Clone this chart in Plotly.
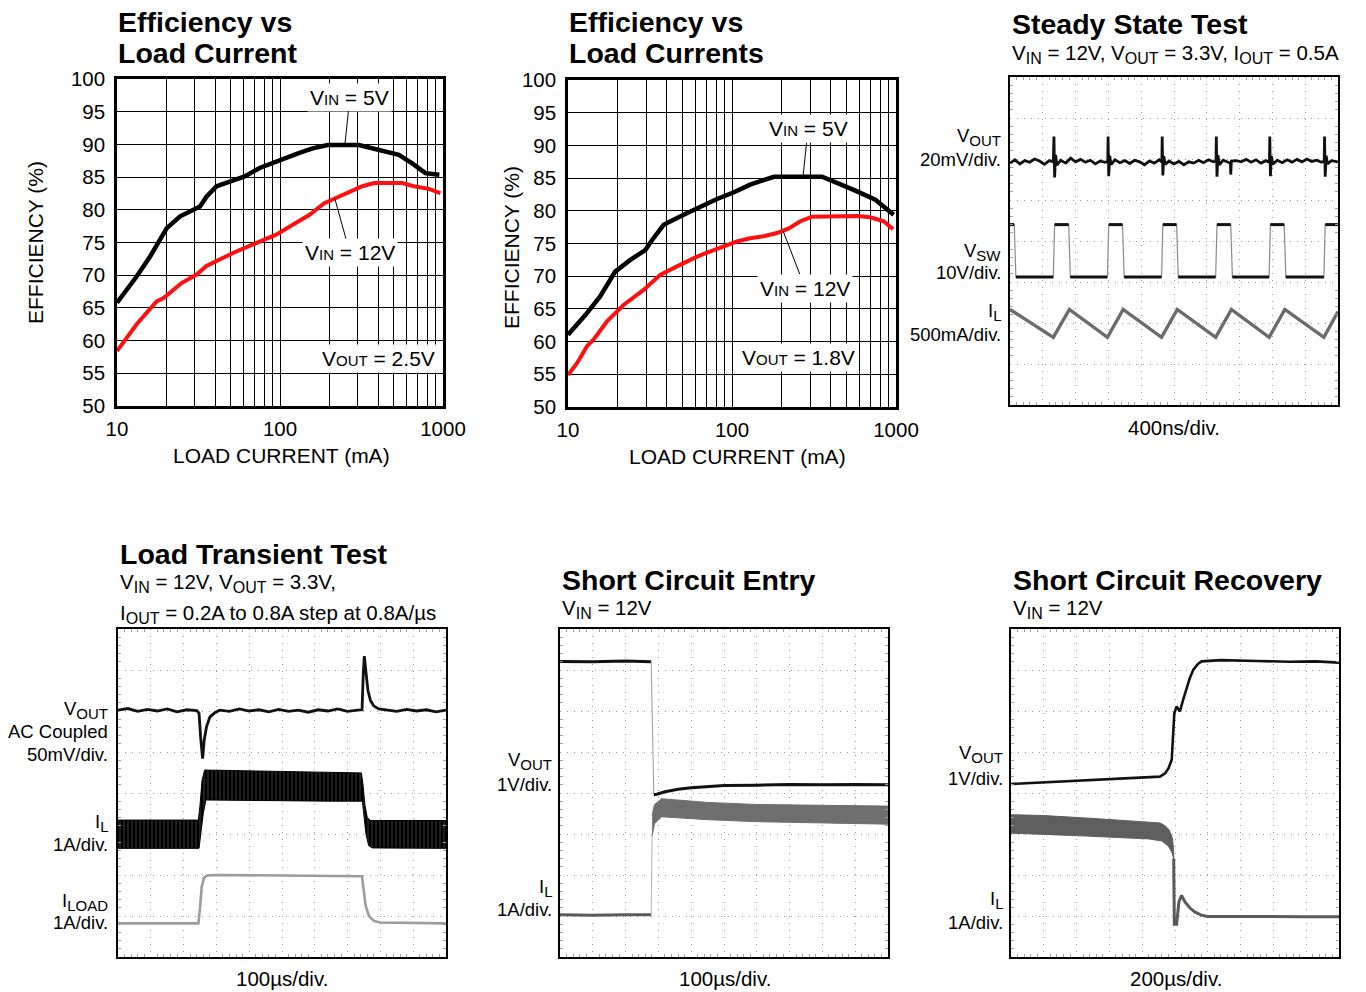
import math
import plotly.graph_objects as go

W, H = 1366, 992
FONT = "Liberation Sans, Arial, sans-serif"

# ---------------- data ----------------
# Panel 1: Efficiency vs Load Current, VOUT = 2.5V
eff1_load_5v = [10, 13.2, 16.0, 19.3, 20.2, 24.4, 28.0, 32.3, 35.4, 40.8, 49.2, 60.7, 75.0, 99.4,
                131.5, 158.6, 196, 305, 369, 445, 536, 647, 780, 950]
eff1_eff_5v = [65.8, 69.8, 72.9, 76.2, 77.2, 79.0, 79.65, 80.5, 82.0, 83.6, 84.3, 85.1, 86.4, 87.6,
               88.7, 89.4, 89.9, 89.9, 89.4, 88.8, 88.4, 87.1, 85.6, 85.35]
eff1_load_12v = [10, 13.2, 17.5, 19.3, 24.9, 30.8, 35.4, 42.7, 51.5, 68.3, 94.8, 119.7, 151, 187,
                 220, 266, 320, 378, 562, 662, 818, 963]
eff1_eff_12v = [58.4, 62.5, 66.0, 66.5, 68.8, 70.1, 71.4, 72.4, 73.4, 74.7, 76.2, 77.7, 79.2, 81.0,
                81.8, 82.8, 83.6, 84.1, 84.1, 83.6, 83.2, 82.55]

# Panel 2: Efficiency vs Load Currents, VOUT = 1.8V
eff2_load_5v = [10, 12.8, 15.7, 17.3, 19.4, 24.0, 29.6, 32.5, 38.3, 50.7, 67.2, 81.0, 102, 129,
                156, 180, 354, 437, 552, 748, 841, 968]
eff2_eff_5v = [61.05, 64.1, 66.9, 68.7, 70.7, 72.5, 74.0, 75.5, 77.85, 79.4, 80.9, 81.8, 82.8, 84.0,
               84.7, 85.2, 85.2, 84.3, 83.2, 81.7, 80.65, 79.4]
eff2_load_12v = [10, 11.35, 13.06, 14.3, 17.3, 21.8, 28.9, 36.5, 46.2, 61.2, 73.8, 89.0, 107, 129,
                 156, 188, 222, 261, 308, 578, 697, 841, 959]
eff2_eff_12v = [54.9, 56.7, 59.3, 60.3, 63.1, 65.6, 67.9, 70.2, 71.5, 73.0, 73.8, 74.6, 75.3, 75.8,
                76.1, 76.6, 77.3, 78.4, 79.1, 79.2, 79.0, 78.4, 77.2]

eff_xticks = [10, 20, 30, 40, 50, 60, 70, 80, 90, 100, 200, 300, 400, 500, 600, 700, 800, 900, 1000]
eff_xlabels = ["10", "", "", "", "", "", "", "", "", "100", "", "", "", "", "", "", "", "", "1000"]
eff_yticks = [50, 55, 60, 65, 70, 75, 80, 85, 90, 95, 100]

# Panel 3: Steady State (scope divisions: x 0-10, y 0-8)
ss_vout_t = [0.00, 0.15, 0.30, 0.45, 0.60, 0.75, 0.90, 1.05, 1.20, 1.32, 1.34, 1.36, 1.39, 1.43,
             1.55, 1.70, 1.85, 2.00, 2.15, 2.30, 2.45, 2.60, 2.75, 2.90, 2.98, 2.99, 3.01, 3.04,
             3.08, 3.20, 3.35, 3.50, 3.65, 3.80, 3.95, 4.10, 4.25, 4.40, 4.55, 4.63, 4.64, 4.66,
             4.69, 4.73, 4.85, 5.00, 5.15, 5.30, 5.45, 5.60, 5.75, 5.90, 6.05, 6.20, 6.28, 6.29,
             6.31, 6.34, 6.38, 6.50, 6.65, 6.72, 6.73, 6.75, 6.90, 7.05, 7.20, 7.35, 7.50, 7.65,
             7.80, 7.91, 7.92, 7.94, 7.97, 8.01, 8.15, 8.30, 8.45, 8.60, 8.75, 8.90, 9.05, 9.20,
             9.35, 9.50, 9.58, 9.59, 9.61, 9.64, 9.68, 9.80, 10.0]
ss_vout_v = [5.90, 5.98, 5.88, 5.96, 5.92, 6.00, 5.95, 5.87, 5.96, 5.93, 6.55, 5.55, 6.10, 5.85,
             5.97, 5.90, 6.02, 5.93, 5.99, 5.92, 5.97, 5.88, 5.95, 5.92, 5.94, 6.55, 5.58, 6.08,
             5.86, 5.98, 5.91, 5.96, 5.89, 5.97, 5.93, 5.86, 5.95, 5.90, 5.98, 5.93, 6.55, 5.60,
             6.07, 5.87, 5.95, 5.88, 5.94, 5.86, 5.93, 5.90, 5.97, 5.91, 5.98, 5.93, 5.95, 6.55,
             5.57, 6.09, 5.86, 5.97, 5.92, 5.90, 5.62, 5.95, 5.96, 5.93, 5.99, 5.92, 5.98, 5.90,
             5.96, 5.92, 6.55, 5.58, 6.07, 5.87, 5.97, 5.91, 5.98, 5.92, 5.99, 5.93, 6.00, 5.94,
             5.97, 5.92, 5.95, 6.55, 5.57, 6.08, 5.88, 5.96, 5.93]
ss_vsw_t = [0, 0.13, 0.18, 1.32, 1.36, 1.79, 1.84, 2.97, 3.01, 3.43, 3.48, 4.62, 4.66, 5.08, 5.13,
            6.27, 6.31, 6.73, 6.78, 7.90, 7.94, 8.36, 8.41, 9.57, 9.61, 10]
ss_vsw_v = [4.40, 4.40, 3.12, 3.12, 4.40, 4.40, 3.12, 3.12, 4.40, 4.40, 3.12, 3.12, 4.40, 4.40, 3.12,
            3.12, 4.40, 4.40, 3.12, 3.12, 4.40, 4.40, 3.12, 3.12, 4.40, 4.40]
ss_il_t = [0, 1.32, 1.81, 2.97, 3.45, 4.62, 5.10, 6.27, 6.75, 7.90, 8.38, 9.57, 10]
ss_il_v = [2.33, 1.65, 2.33, 1.65, 2.33, 1.65, 2.33, 1.65, 2.33, 1.65, 2.33, 1.65, 2.28]

# Panel 4: Load Transient
lt_vout_t = [0, 0.3, 0.6, 0.9, 1.2, 1.5, 1.8, 2.1, 2.4, 2.47, 2.52, 2.58, 2.63, 2.70, 2.80, 2.95,
             3.1, 3.4, 3.7, 4.0, 4.3, 4.6, 4.9, 5.2, 5.5, 5.8, 6.1, 6.4, 6.7, 7.0, 7.3, 7.44, 7.48,
             7.51, 7.56, 7.62, 7.70, 7.80, 7.95, 8.2, 8.5, 8.8, 9.1, 9.4, 9.7, 10]
lt_vout_v = [6.02, 6.06, 5.99, 6.04, 6.00, 6.05, 5.98, 6.03, 6.01, 5.95, 5.35, 4.84, 5.30, 5.62,
             5.85, 5.96, 6.02, 5.99, 6.05, 6.00, 6.03, 5.98, 6.04, 5.99, 6.02, 5.97, 6.03, 6.00,
             6.05, 5.99, 6.02, 6.03, 6.95, 7.34, 6.95, 6.50, 6.25, 6.12, 6.05, 6.02, 5.99, 6.04,
             6.00, 6.03, 5.98, 6.02]
lt_il_top_t = [0, 2.45, 2.50, 2.56, 2.64, 3.5, 5.0, 6.5, 7.42, 7.47, 7.53, 7.60, 7.70, 10]
lt_il_top_v = [3.34, 3.34, 3.70, 4.30, 4.56, 4.55, 4.52, 4.50, 4.49, 4.20, 3.70, 3.40, 3.33, 3.33]
lt_il_bot_t = [0, 2.47, 2.53, 2.60, 2.68, 3.5, 5.0, 6.5, 7.45, 7.50, 7.56, 7.64, 7.75, 10]
lt_il_bot_v = [2.65, 2.65, 3.00, 3.50, 3.83, 3.83, 3.81, 3.80, 3.80, 3.50, 3.00, 2.72, 2.66, 2.65]
lt_iload_t = [0, 1.5, 2.45, 2.50, 2.55, 2.62, 2.72, 3.0, 5.0, 7.44, 7.48, 7.55, 7.65, 7.80, 8.0, 10]
lt_iload_v = [0.82, 0.83, 0.82, 1.20, 1.70, 1.93, 1.99, 2.00, 1.99, 1.97, 1.70, 1.25, 1.00, 0.88, 0.84, 0.82]

# Panel 5: Short Circuit Entry
se_vout_hi_t = [0, 1.0, 2.0, 2.78]
se_vout_hi_v = [7.21, 7.20, 7.22, 7.20]
se_vout_edge_t = [2.78, 2.86]
se_vout_edge_v = [7.20, 3.96]
se_vout_lo_t = [2.86, 2.95, 3.2, 3.6, 4.0, 5.0, 6.0, 7.0, 8.0, 9.0, 10]
se_vout_lo_v = [3.96, 3.97, 4.03, 4.09, 4.13, 4.18, 4.19, 4.21, 4.20, 4.21, 4.20]
se_il_lo_t = [0, 1.0, 2.0, 2.78]
se_il_lo_v = [1.03, 1.02, 1.03, 1.03]
se_il_edge_t = [2.78, 2.81]
se_il_edge_v = [1.03, 3.00]
se_il_top_t = [2.81, 2.88, 3.1, 3.5, 4.5, 6.0, 8.0, 10]
se_il_top_v = [3.45, 3.72, 3.86, 3.83, 3.77, 3.72, 3.70, 3.68]
se_il_bot_t = [2.81, 2.88, 3.1, 3.5, 4.5, 6.0, 8.0, 10]
se_il_bot_v = [2.95, 3.25, 3.42, 3.40, 3.35, 3.30, 3.27, 3.24]

# Panel 6: Short Circuit Recovery
sr_vout_t = [0.0, 1.0, 2.3, 3.5, 4.2, 4.54, 4.70, 4.80, 4.90, 4.95, 4.98, 5.05, 5.15, 5.25, 5.35,
             5.45, 5.56, 5.70, 5.81, 6.4, 7.5, 8.5, 9.3, 10.0]
sr_vout_v = [4.22, 4.26, 4.31, 4.35, 4.37, 4.40, 4.48, 4.60, 4.81, 5.40, 5.95, 6.11, 5.99, 6.28,
             6.56, 6.80, 7.01, 7.15, 7.21, 7.24, 7.22, 7.20, 7.21, 7.18]
sr_il_top_t = [0, 1.0, 2.3, 3.5, 4.2, 4.54, 4.70, 4.82, 4.92, 4.96]
sr_il_top_v = [3.47, 3.45, 3.39, 3.33, 3.30, 3.27, 3.20, 3.10, 2.90, 2.60]
sr_il_bot_t = [0, 1.0, 2.3, 3.5, 4.2, 4.60, 4.80, 4.90, 4.96]
sr_il_bot_v = [3.02, 2.99, 2.95, 2.91, 2.88, 2.83, 2.70, 2.56, 2.40]
sr_il_post_t = [4.96, 4.98, 5.05, 5.12, 5.20, 5.30, 5.45, 5.60, 5.80, 6.0, 7.0, 8.0, 9.0, 10.0]
sr_il_post_v = [2.40, 0.80, 0.80, 1.35, 1.50, 1.35, 1.20, 1.10, 1.02, 0.99, 0.99, 0.98, 0.98, 0.98]

# ---------------- figure ----------------
boxes = {1: (117, 443, 79, 406), 2: (568, 896, 80, 407), 3: (1010, 1338, 77, 405),
         4: (118, 446, 629, 957), 5: (560, 888, 629, 957), 6: (1011, 1339, 629, 957)}

fig = go.Figure()


def add(tr, i):
    tr.update(xaxis="x" if i == 1 else f"x{i}", yaxis="y" if i == 1 else f"y{i}",
              showlegend=False, hoverinfo="skip")
    fig.add_trace(tr)


def line(x, y, i, color="black", width=2.5):
    add(go.Scatter(x=x, y=y, mode="lines", line=dict(color=color, width=width)), i)


def band(xt, yt, xb, yb, i, color, pattern=None):
    tr = go.Scatter(x=list(xt) + list(xb)[::-1], y=list(yt) + list(yb)[::-1], mode="lines",
                    fill="toself", fillcolor=color, line=dict(color=color, width=1))
    if pattern:
        tr.update(fillpattern=pattern)
    add(tr, i)


def flats(t, v):
    # keep only the flat (constant-level) pieces of a square wave, separated by gaps
    xs, ys = [], []
    for k in range(len(t) - 1):
        if v[k] == v[k + 1]:
            xs += [t[k], t[k + 1], None]
            ys += [v[k], v[k + 1], None]
    return xs, ys


# efficiency curves
for i, (x5, y5, x12, y12) in {1: (eff1_load_5v, eff1_eff_5v, eff1_load_12v, eff1_eff_12v),
                               2: (eff2_load_5v, eff2_eff_5v, eff2_load_12v, eff2_eff_12v)}.items():
    line(x12, y12, i, "#ff1010", 4)
    line(x5, y5, i, "black", 4.5)

# steady state
line(ss_il_t, ss_il_v, 3, "#6b6b6b", 3.4)
line(ss_vsw_t, ss_vsw_v, 3, "#8a8a8a", 1.2)
fx, fy = flats(ss_vsw_t, ss_vsw_v)
line(fx, fy, 3, "#111", 3)
line(ss_vout_t, ss_vout_v, 3, "#111", 2.8)

# load transient
line(lt_iload_t, lt_iload_v, 4, "#9c9c9c", 2.6)
band(lt_il_top_t, lt_il_top_v, lt_il_bot_t, lt_il_bot_v, 4, "#000",
     dict(shape="|", size=4, solidity=0.22, fgcolor="#8c8c8c", bgcolor="#000"))
line(lt_vout_t, lt_vout_v, 4, "#111", 2.8)

# short circuit entry
band(se_il_top_t, se_il_top_v, se_il_bot_t, se_il_bot_v, 5, "#6e6e6e")
line(se_il_lo_t, se_il_lo_v, 5, "#5a5a5a", 3)
line(se_il_edge_t, se_il_edge_v, 5, "#b0b0b0", 1)
line(se_vout_hi_t, se_vout_hi_v, 5, "#111", 3)
line(se_vout_edge_t, se_vout_edge_v, 5, "#9a9a9a", 1)
line(se_vout_lo_t, se_vout_lo_v, 5, "#111", 3)

# short circuit recovery
band(sr_il_top_t, sr_il_top_v, sr_il_bot_t, sr_il_bot_v, 6, "#5e5e5e")
line(sr_il_post_t, sr_il_post_v, 6, "#5a5a5a", 3)
line(sr_vout_t, sr_vout_v, 6, "#111", 2.6)

layout = dict(width=W, height=H, margin=dict(l=0, r=0, t=0, b=0, pad=0, autoexpand=False),
              paper_bgcolor="white", plot_bgcolor="white", font=dict(family=FONT, color="black"))

tickfont = dict(family=FONT, size=20.5, color="black")
for i, (x0, x1, y0, y1) in boxes.items():
    xk = "xaxis" if i == 1 else f"xaxis{i}"
    yk = "yaxis" if i == 1 else f"yaxis{i}"
    xa = dict(domain=[x0 / W, x1 / W], anchor="y" if i == 1 else f"y{i}", showline=True,
              linecolor="black", mirror=True, zeroline=False, fixedrange=True, automargin=False)
    ya = dict(domain=[1 - y1 / H, 1 - y0 / H], anchor="x" if i == 1 else f"x{i}", showline=True,
              linecolor="black", mirror=True, zeroline=False, fixedrange=True, automargin=False)
    if i in (1, 2):
        xa.update(type="log", range=[1, 3], tickvals=eff_xticks, ticktext=eff_xlabels,
                  showgrid=True, gridcolor="black", gridwidth=1.3, linewidth=2.5, ticks="",
                  tickfont=tickfont, ticklabelstandoff=3)
        ya.update(range=[50, 100], tickvals=eff_yticks, showgrid=True, gridcolor="black",
                  gridwidth=1.3, linewidth=2.5, ticks="", tickfont=tickfont, ticklabelstandoff=5)
    else:
        minor = dict(ticks="inside", ticklen=3, tickwidth=1, tickcolor="#a0a0a0", showgrid=False)
        xa.update(range=[0, 10], dtick=1, showgrid=True, gridcolor="#9a9a9a", gridwidth=1,
                  griddash="1px,6px", showticklabels=False, ticks="", linewidth=2,
                  minor=dict(minor, dtick=0.2), mirror="allticks")
        ya.update(range=[0, 8], dtick=1, showgrid=True, gridcolor="#9a9a9a", gridwidth=1,
                  griddash="1px,6px", showticklabels=False, ticks="", linewidth=2,
                  minor=dict(minor, dtick=0.2), mirror="allticks")
    layout[xk] = xa
    layout[yk] = ya

ann = []


def sub(s, size):
    return "<sub><span style='font-size:%spx'>%s</span></sub>" % (size, s)


def note(text, x, y, size=18.5, anchor="left", angle=0, bg=None):
    d = dict(xref="paper", yref="paper", x=x / W, y=1 - y / H, text=text, showarrow=False,
             xanchor=anchor, yanchor="middle", textangle=angle,
             font=dict(family=FONT, size=size, color="black"))
    if bg:
        d.update(bgcolor=bg, borderpad=2)
    ann.append(d)


S1 = 16  # subtitle subscript size
# titles
note("<b>Efficiency vs</b>", 116, 22, 28.5)
note("<b>Load Current</b>", 116, 53, 28.5)
note("<b>Efficiency vs</b>", 567, 22, 28.5)
note("<b>Load Currents</b>", 567, 53, 28.5)
note("<b>Steady State Test</b>", 1010, 24, 28.5)
note("V" + sub("IN", S1) + " = 12V, V" + sub("OUT", S1) + " = 3.3V, I" + sub("OUT", S1) + " = 0.5A",
     1010, 54, 20.5)
note("<b>Load Transient Test</b>", 118, 554, 28.5)
note("V" + sub("IN", S1) + " = 12V, V" + sub("OUT", S1) + " = 3.3V,", 118, 583, 20.5)
note("I" + sub("OUT", S1) + " = 0.2A to 0.8A step at 0.8A/µs", 118, 614, 20.5)
note("<b>Short Circuit Entry</b>", 560, 580, 28.5)
note("V" + sub("IN", S1) + " = 12V", 560, 609, 20.5)
note("<b>Short Circuit Recovery</b>", 1011, 580, 28.5)
note("V" + sub("IN", S1) + " = 12V", 1011, 609, 20.5)

# efficiency axis titles
note("LOAD CURRENT (mA)", 281, 455, 21, "center")
note("LOAD CURRENT (mA)", 737, 456, 21, "center")
note("EFFICIENCY (%)", 35, 243, 21, "center", -90)
note("EFFICIENCY (%)", 511, 248, 21, "center", -90)

# efficiency labels
small = "<span style='font-size:15px'>%s</span>"
note("V" + small % "OUT" + " = 2.5V", 378, 359, 21, "center", bg="white")
note("V" + small % "OUT" + " = 1.8V", 799, 358, 21, "center", bg="white")


def callout(text, x, y, ax, ay, i):
    ann.append(dict(xref="x" if i == 1 else f"x{i}", yref="y" if i == 1 else f"y{i}",
                    x=x, y=y, text=text, showarrow=True, arrowhead=0, arrowwidth=1,
                    arrowcolor="black", ax=ax, ay=ay, bgcolor="white", borderpad=2,
                    font=dict(family=FONT, size=21, color="black")))


callout("V" + small % "IN" + " = 5V", math.log10(250), 89.9, 5, -48, 1)
callout("V" + small % "IN" + " = 12V", math.log10(217), 81.7, 15, 54, 1)
callout("V" + small % "IN" + " = 5V", math.log10(271), 85.2, 5, -48, 2)
callout("V" + small % "IN" + " = 12V", math.log10(205), 76.9, 22, 57, 2)

# scope labels
S2 = 15
note("V" + sub("OUT", S2), 1003, 137, 18.5, "right")
note("20mV/div.", 1003, 159, 18.5, "right")
note("V" + sub("SW", S2), 1003, 252, 18.5, "right")
note("10V/div.", 1003, 273, 18.5, "right")
note("I" + sub("L", S2), 1003, 312, 18.5, "right")
note("500mA/div.", 1003, 334, 18.5, "right")
note("400ns/div.", 1174, 427, 20.5, "center")

note("V" + sub("OUT", S2), 110, 710, 18.5, "right")
note("AC Coupled", 110, 731, 18.5, "right")
note("50mV/div.", 110, 754, 18.5, "right")
note("I" + sub("L", S2), 110, 823, 18.5, "right")
note("1A/div.", 110, 844, 18.5, "right")
note("I" + sub("LOAD", S2), 110, 902, 18.5, "right")
note("1A/div.", 110, 922, 18.5, "right")
note("100µs/div.", 282, 978, 20.5, "center")

note("V" + sub("OUT", S2), 554, 761, 18.5, "right")
note("1V/div.", 554, 784, 18.5, "right")
note("I" + sub("L", S2), 554, 888, 18.5, "right")
note("1A/div.", 554, 909, 18.5, "right")
note("100µs/div.", 725, 978, 20.5, "center")

note("V" + sub("OUT", S2), 1005, 754, 18.5, "right")
note("1V/div.", 1005, 778, 18.5, "right")
note("I" + sub("L", S2), 1005, 900, 18.5, "right")
note("1A/div.", 1005, 922, 18.5, "right")
note("200µs/div.", 1176, 978, 20.5, "center")

layout["annotations"] = ann
fig.update_layout(**layout)
fig.write_html("out.html", config={"displayModeBar": False},
               post_script="document.body.style.margin='0';document.body.style.padding='0';"
                           "document.body.style.overflow='hidden';")
